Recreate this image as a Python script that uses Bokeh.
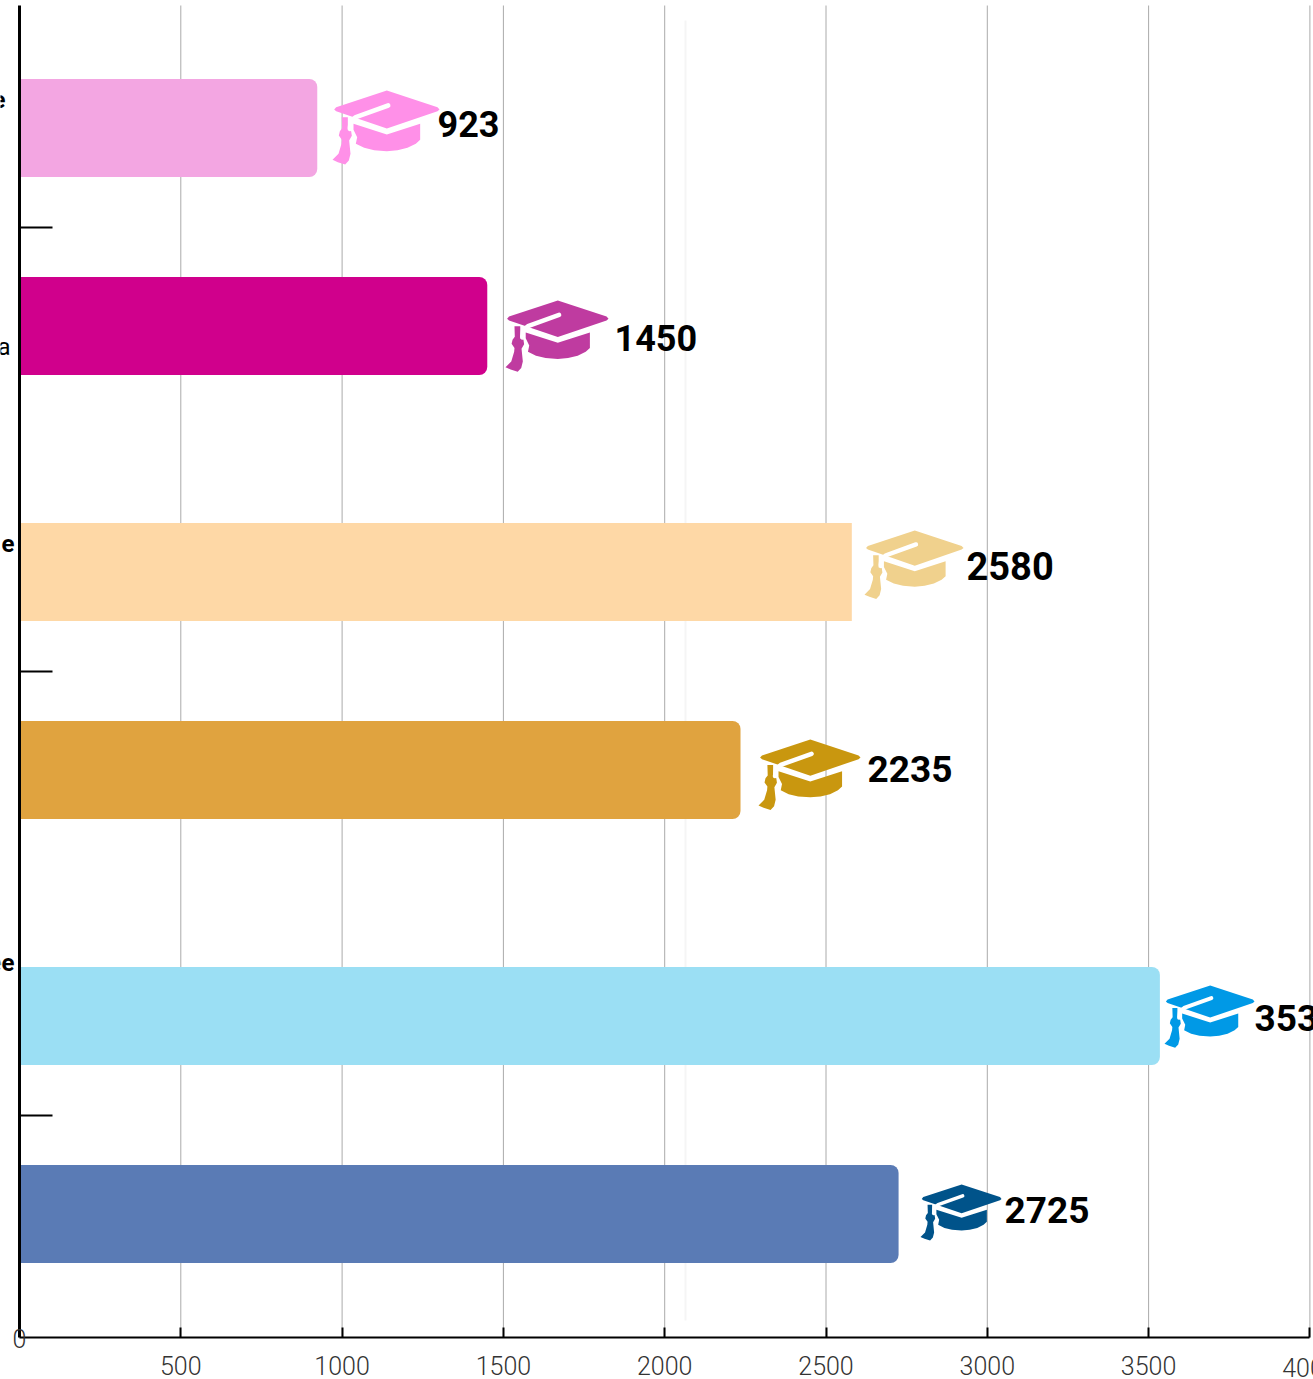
from bokeh.plotting import figure
from bokeh.embed import file_html
from bokeh.resources import INLINE
from bokeh.models import Range1d, LinearAxis, FixedTicker, Label, ColumnDataSource
from bokeh.core.properties import value

group_index = [0, 0, 1, 1, 2, 2]
sub_index = [0, 1, 0, 1, 0, 1]
values = [923, 1450, 2580, 2235, 3535, 2725]
bar_colors = ["#f3a6e2", "#d0008c", "#fed8a6", "#e0a33f", "#9bdff4", "#5a7bb5"]
hat_colors = ["#ff90e8", "#bf3ba0", "#f0d18d", "#c9970f", "#0099e6", "#00538a"]
x_ticks = [500, 1000, 1500, 2000, 2500, 3000, 3500, 4000]
side_labels = ["e", "a", "e", "ee"]
side_bold = ["bold", "normal", "bold", "bold"]
side_y = [99, 346, 543, 962]
side_x = [5, 10, 14, 14]
value_x = [437, 614, 966, 867, 1254, 1004]
value_y = [123, 337, 565, 768, 1017, 1209]
value_size = [36, 36, 38, 37, 37, 37]
hat_left = [332, 505, 864, 758, 1164, 920]
hat_top = [90, 300, 530, 739, 985, 1184]
hat_width = [107, 103, 99, 102, 90, 81]
group_ticks = [227, 671, 1115]

# cap outline pieces in the icon's own coordinates (width 321, height 222)
board = [(163, 0), (315, 50), (321, 57), (315, 62), (163, 114), (11, 62), (5, 57), (11, 50)]
body = [(63, 100), (163, 132), (263, 100), (263, 148), (250, 160), (225, 172), (195, 179), (163, 182),
        (125, 179), (95, 172), (70, 160), (74, 140), (63, 118)]
tassel = [(28, 80), (46, 80), (46, 112), (56, 122), (58, 136), (50, 150), (54, 190), (49, 210), (38, 222),
          (16, 215), (0, 208), (18, 190), (27, 160), (28, 148), (19, 135), (22, 122), (29, 113)]
strap_x = [167, 70, 55, 52]
strap_y = [45, 80, 92, 115]

W, H = 1313, 1379
ROW = 198
X0, K = 19.0, 0.3226
def py(px):
    return (px - 128) / ROW

rows = [g * 2.2424 + s - 0.0025 for g, s in zip(group_index, sub_index)]

p = figure(width=W, height=H, x_range=Range1d(-X0 / K, (W - X0) / K), y_range=Range1d(py(H), py(0)),
           output_backend="svg", toolbar_location=None,
           y_axis_type=None, x_axis_type=None,
           min_border_left=0, min_border_right=0, min_border_top=0, min_border_bottom=0,
           margin=0, outline_line_color=None, background_fill_color="white")
p.xgrid.visible = False
p.ygrid.visible = False

p.extra_x_ranges = {"px": Range1d(0, W)}

# vertical reference lines stop at the axis
p.segment(x0=x_ticks, x1=x_ticks, y0=[py(5)] * len(x_ticks), y1=[py(1337)] * len(x_ticks),
          line_color="#aaaaaa", line_width=1)

xax = LinearAxis(ticker=FixedTicker(ticks=x_ticks), bounds=(0, 4000), fixed_location=py(1337))
xax.axis_line_color = "black"; xax.axis_line_width = 2
xax.major_tick_in = 10; xax.major_tick_out = 0
xax.major_tick_line_color = "black"; xax.major_tick_line_width = 2
xax.minor_tick_line_color = None
xax.major_label_text_font = "Roboto Light"
xax.major_label_text_font_size = "25px"
xax.major_label_text_color = "#333333"
xax.major_label_standoff = 18
xax.major_label_overrides = {4000: ""}
p.add_layout(xax, "below")

yax = LinearAxis(ticker=FixedTicker(ticks=[]), bounds=(py(5), py(1337)), fixed_location=0)
yax.axis_line_color = "black"; yax.axis_line_width = 3
yax.major_tick_line_color = None
yax.minor_tick_line_color = None
p.add_layout(yax, "left")

# faint stray line
p.segment(x0=[685], x1=[685], y0=[py(20)], y1=[py(1320)], x_range_name="px",
          line_color="#f5f5f5", line_width=2)

# group separator ticks
p.segment(x0=[19] * 3, x1=[52] * 3, y0=[py(t) for t in group_ticks], y1=[py(t) for t in group_ticks],
          x_range_name="px", line_color="black", line_width=2)

round_idx = [i for i in range(6) if i != 2]
src = ColumnDataSource(dict(y=[rows[i] for i in round_idx], right=[values[i] for i in round_idx],
                            color=[bar_colors[i] for i in round_idx]))
p.hbar(y="y", left=0, right="right", height=0.495, fill_color="color", line_color=None,
       border_radius=(0, 8, 8, 0), source=src)
p.hbar(y=[rows[2]], left=0, right=[values[2]], height=0.495, fill_color=bar_colors[2], line_color=None)

for i in range(6):
    k = hat_width[i] / 321
    def sx(pts): return [hat_left[i] + a * k for a, _ in pts]
    def sy(pts): return [py(hat_top[i] + b * k) for _, b in pts]
    for shape in (body, board, tassel):
        p.patch(sx(shape), sy(shape), x_range_name="px", fill_color=hat_colors[i], line_color=None)
    p.line([hat_left[i] + a * k for a in strap_x], [py(hat_top[i] + b * k) for b in strap_y],
           x_range_name="px", line_color="white", line_width=14 * k,
           line_cap="round", line_join="round")

p.text(x=value_x, y=[py(v) for v in value_y], text=[str(v) for v in values], x_range_name="px",
       text_font=value("Roboto"), text_font_style="bold",
       text_font_size=[f"{s}px" for s in value_size], text_baseline="middle", text_align="left",
       text_color="black")

for t, st, y, x in zip(side_labels, side_bold, side_y, side_x):
    p.add_layout(Label(x=x, y=H - y, x_units="screen", y_units="screen", text=t, text_font="Roboto",
                       text_font_style=st, text_font_size="24px", text_align="right",
                       text_baseline="middle", text_color="black"))
p.add_layout(Label(x=X0, y=H - 1338, x_units="screen", y_units="screen", text="0", text_font="Roboto Light",
                   text_font_size="25px", text_align="center", text_baseline="middle", text_color="#333333"))
p.add_layout(Label(x=X0 + 4000 * K, y=H - 1367, x_units="screen", y_units="screen", text="4000", text_font="Roboto Light",
                   text_font_size="25px", text_align="center", text_baseline="middle", text_color="#333333"))

open("out.html", "w").write(file_html(p, INLINE))
